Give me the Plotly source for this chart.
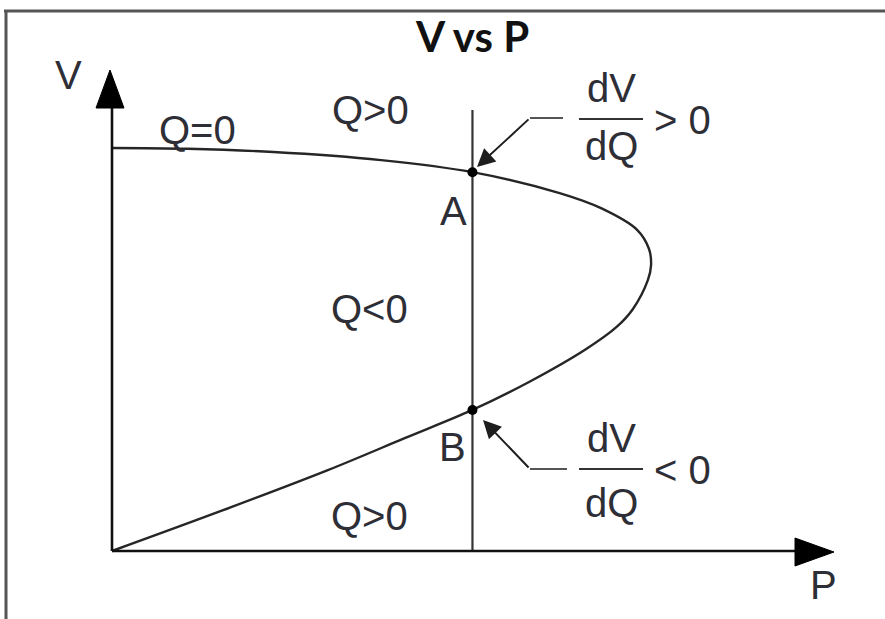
import plotly.graph_objects as go

# ---- data (P = active power, V = voltage, per-unit) ----
curve_P = [0.000, 0.102, 0.200, 0.272, 0.335, 0.388, 0.440, 0.469, 0.484, 0.498, 0.501,
           0.499, 0.488, 0.455, 0.416, 0.335, 0.250, 0.150, 0.070, 0.000]
curve_V = [0.000, 0.100, 0.200, 0.280, 0.350, 0.420, 0.500, 0.556, 0.600, 0.672, 0.710,
           0.750, 0.797, 0.850, 0.888, 0.940, 0.970, 0.990, 0.998, 1.000]

op_P = 0.335                      # operating load line
point_names = ["A", "B"]
point_V = [0.940, 0.350]

region_labels = ["Q=0", "Q>0", "Q<0", "Q>0"]

W, H = 885, 619
X0, XS = 112, 1076   # pixel of P=0, pixels per unit P
Y0, YS = 551, 403    # pixel of V=0, pixels per unit V


def dx(px):
    return (px - X0) / XS


def dy(py):
    return (Y0 - py) / YS


def px_(x):
    return x / W


def py_(y):
    return 1 - y / H


TXT = "#2e2e36"
FONT = "Liberation Sans, Arial, sans-serif"
FS = 40

fig = go.Figure()

fig.add_trace(go.Scatter(x=curve_P, y=curve_V, mode="lines",
                         line=dict(color="#262626", width=2.4, shape="spline", smoothing=1.0),
                         hoverinfo="skip", showlegend=False))

# vertical operating line
fig.add_trace(go.Scatter(x=[op_P, op_P], y=[0, dy(110)], mode="lines",
                         line=dict(color="#333333", width=2.2),
                         hoverinfo="skip", showlegend=False))

# points A and B
fig.add_trace(go.Scatter(x=[op_P] * len(point_V), y=point_V, mode="markers",
                         marker=dict(color="black", size=10),
                         hoverinfo="skip", showlegend=False))

shapes = []
# axes lines
shapes.append(dict(type="line", xref="x", yref="y", x0=0, y0=0, x1=0, y1=dy(104),
                   line=dict(color="#111111", width=2.6)))
shapes.append(dict(type="line", xref="x", yref="y", x0=0, y0=0, x1=dx(800), y1=0,
                   line=dict(color="#111111", width=2.6)))
# arrow heads
shapes.append(dict(type="path", xref="x", yref="y",
                   path=f"M {dx(110)},{dy(70)} L {dx(96)},{dy(108)} L {dx(124)},{dy(108)} Z",
                   fillcolor="black", line=dict(color="black", width=1)))
shapes.append(dict(type="path", xref="x", yref="y",
                   path=f"M {dx(834)},{dy(552)} L {dx(795)},{dy(538)} L {dx(795)},{dy(566)} Z",
                   fillcolor="black", line=dict(color="black", width=1)))
# picture frame (top and left edges)
shapes.append(dict(type="line", xref="paper", yref="paper", x0=px_(4), y0=py_(11), x1=1, y1=py_(11),
                   line=dict(color="#555555", width=3)))
shapes.append(dict(type="line", xref="paper", yref="paper", x0=px_(6), y0=py_(10), x1=px_(6), y1=0,
                   line=dict(color="#555555", width=3)))
# fraction bars
for yb in (119, 469):
    shapes.append(dict(type="line", xref="paper", yref="paper", x0=px_(579), y0=py_(yb),
                       x1=px_(643), y1=py_(yb), line=dict(color="#333333", width=2)))
# horizontal part of leaders
for yb, xe in ((118, 563), (469, 567)):
    shapes.append(dict(type="line", xref="paper", yref="paper", x0=px_(530), y0=py_(yb),
                       x1=px_(xe), y1=py_(yb), line=dict(color="#555555", width=2)))

ann = []


def text(s, x, y, size=FS, bold=False, family=FONT, color=TXT):
    ann.append(dict(text=f"<b>{s}</b>" if bold else s, xref="paper", yref="paper",
                    x=px_(x), y=py_(y), xanchor="center", yanchor="middle", showarrow=False,
                    font=dict(family=family, size=size, color=color)))


text("V vs P", 472, 36, size=42, bold=True, family="Lato, sans-serif", color="#111111")
text("V", 68, 75)
text("P", 823, 585)
text(region_labels[0], 197, 130)
text(region_labels[1], 370, 110)
text(region_labels[2], 369, 309)
text(region_labels[3], 369, 516)
text(point_names[0], 453, 211)
text(point_names[1], 452, 447)
text("dV", 611, 88)
text("dQ", 611, 146)
text("> 0", 682, 120)
text("dV", 611, 438)
text("dQ", 611, 503)
text("< 0", 682, 470)

# leader arrows
for (tx, ty), (sx, sy) in (((477, 167), (530, 118)), ((483, 420), (530, 469))):
    ann.append(dict(x=dx(tx), y=dy(ty), ax=dx(sx), ay=dy(sy), xref="x", yref="y",
                    axref="x", ayref="y", text="", showarrow=True, arrowhead=2,
                    arrowsize=1.8, arrowwidth=2, arrowcolor="#1e1e1e", standoff=0))

fig.update_layout(
    width=W, height=H, margin=dict(l=0, r=0, t=0, b=0, pad=0),
    paper_bgcolor="white", plot_bgcolor="white",
    xaxis=dict(range=[dx(0), dx(W)], visible=False, fixedrange=True),
    yaxis=dict(range=[dy(H), dy(0)], visible=False, fixedrange=True),
    shapes=shapes, annotations=ann, showlegend=False,
)

fig.write_html("out.html", config={"displayModeBar": False},
               post_script="document.body.style.margin='0';document.body.style.overflow='hidden';")
